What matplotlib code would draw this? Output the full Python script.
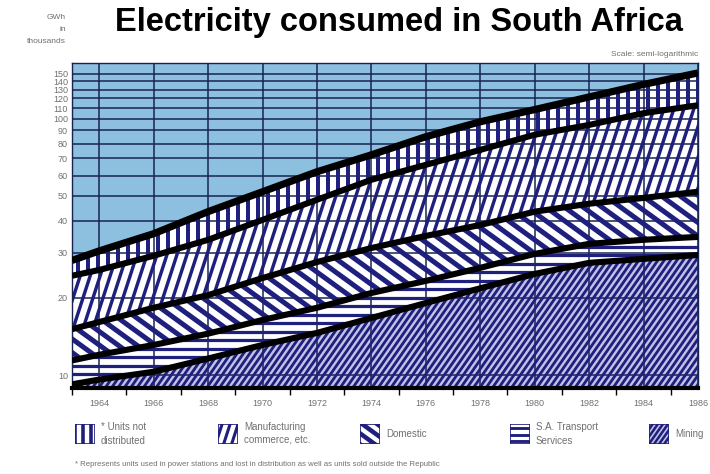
import numpy as np
import matplotlib
matplotlib.use("Agg")
import matplotlib.pyplot as plt
from matplotlib.collections import LineCollection
from matplotlib.patches import Polygon, Rectangle

# Data (thousand GWh)
years = np.array([1963, 1964, 1966, 1968, 1970, 1972, 1974, 1976, 1978, 1980, 1982, 1984, 1986])
mining = np.array([9.2, 9.6, 10.3, 11.6, 13.1, 14.6, 16.7, 19.1, 21.8, 24.8, 27.4, 28.4, 29.4])
transport = np.array([2.2, 2.4, 2.8, 2.9, 3.3, 3.7, 4.2, 4.2, 4.4, 4.9, 5.1, 5.3, 5.2])
domestic = np.array([3.7, 4.1, 5.2, 6.0, 7.5, 9.3, 10.4, 11.6, 12.3, 13.7, 14.1, 15.4, 17.3])
manufacturing = np.array([9.3, 9.6, 10.9, 13.2, 16.4, 20.7, 26.5, 31.2, 37.1, 43.2, 48.0, 56.0, 61.0])
not_distributed = np.array([3.6, 4.8, 6.4, 9.7, 11.6, 13.8, 14.5, 19.0, 21.7, 22.0, 27.0, 31.0, 38.0])

yticks = [10, 20, 30, 40, 50, 60, 70, 80, 90, 100, 110, 120, 130, 140, 150]
xlabels = list(range(1964, 1987, 2))
legend_labels = ["* Units not\ndistributed", "Manufacturing\ncommerce, etc.", "Domestic",
                 "S.A. Transport\nServices", "Mining"]
footnote = ("* Represents units used in power stations and lost in distribution "
            "as well as units sold outside the Republic")

navy = "#1f1f7e"
sky = "#8dbfdf"
grey = "#707070"
plt.rcParams['font.family'] = ['Liberation Sans', 'DejaVu Sans']

fig = plt.figure(figsize=(7.1, 4.74), dpi=100)
ax = fig.add_axes([72/710, 1 - 388/474, 626/710, 325/474])
ax.set_facecolor(sky)
ax.set_yscale('log')
ymin, ymax = 8.9, 165
ax.set_xlim(1963, 1986)
ax.set_ylim(ymin, ymax)


def add_hatch(a, patch, angle, spacing, lw, color=navy, z=2):
    # parallel stripes in pixel space, clipped to the patch
    bb = a.get_position()
    W = bb.width * fig.get_figwidth() * fig.dpi
    H = bb.height * fig.get_figheight() * fig.dpi
    th = np.deg2rad(angle)
    d = np.array([np.cos(th), np.sin(th)])
    nrm = np.array([-np.sin(th), np.cos(th)])
    diag = np.hypot(W, H)
    c = np.array([W / 2, H / 2])
    segs = []
    for k in np.arange(-diag / 2, diag / 2 + spacing, spacing):
        p = c + k * nrm
        p0, p1 = p - diag * d, p + diag * d
        segs.append([(p0[0] / W, p0[1] / H), (p1[0] / W, p1[1] / H)])
    lc = LineCollection(segs, colors=color, linewidths=lw * 72 / fig.dpi,
                        transform=a.transAxes, zorder=z)
    a.add_collection(lc, autolim=False)
    lc.set_clip_path(patch)


# stripes: angle, spacing px, width px, background
styles = [
    (90, 10, 4.0, "white"),    # units not distributed
    (72, 9.5, 3.4, "white"),   # manufacturing
    (-36, 11, 5.0, "white"),   # domestic
    (0, 8.5, 3.2, "white"),    # transport
    (55, 5.2, 2.8, "#c2c2e6"),  # mining
]

layers = [mining, transport, domestic, manufacturing, not_distributed]
tops = np.cumsum(layers, axis=0)
bottoms = [np.full(len(years), ymin * 0.9)] + list(tops[:-1])
style_for = [styles[4], styles[3], styles[2], styles[1], styles[0]]

for top, bot, (ang, sp, w, bg) in zip(tops, bottoms, style_for):
    poly = Polygon(np.column_stack([np.concatenate([years, years[::-1]]),
                                    np.concatenate([top, bot[::-1]])]),
                   closed=True, facecolor=bg, edgecolor="none", zorder=1)
    ax.add_patch(poly)
    add_hatch(ax, poly, ang, sp, w)

# thick black boundaries
for i, top in enumerate(tops):
    ax.plot(years, top, color="black", lw=5.2 if i == len(tops) - 1 else 4.4,
            solid_capstyle="butt", solid_joinstyle="round", zorder=3)

# grid sits between the fills and the stripes
ax.set_axisbelow('line')
ax.set_yticks(yticks)
ax.set_yticklabels([str(v) for v in yticks])
ax.yaxis.set_minor_locator(matplotlib.ticker.NullLocator())
ax.set_xticks(xlabels)
ax.set_xticks(list(range(1963, 1987, 2)), minor=True)
ax.grid(True, which='major', color="#172452", lw=1.1)
ax.tick_params(axis='y', length=0, labelsize=6.5, labelcolor=grey, pad=3)
ax.tick_params(axis='x', which='major', length=0, labelsize=6.5, labelcolor=grey, pad=8)
ax.tick_params(axis='x', which='minor', length=5, width=1, color="black")
for s in ["top", "right", "left"]:
    ax.spines[s].set_color("#172452")
    ax.spines[s].set_linewidth(1.0)
ax.spines["bottom"].set_linewidth(3)
ax.spines["bottom"].set_zorder(4)

# texts
fig.text(399/710, 1 - 23/474, "Electricity consumed in South Africa", ha="center", va="center",
         fontsize=23.5, fontweight="bold", color="black")
fig.text(66/710, 1 - 14/474, "GWh\nin\nthousands", ha="right", va="top", fontsize=6,
         color=grey, linespacing=2.0)
fig.text(698/710, 1 - 54/474, "Scale: semi-logarithmic", ha="right", va="center",
         fontsize=6, color=grey)

# legend
icon_x = [75, 218, 360, 510, 649]
for x0, lab, (ang, sp, w, bg) in zip(icon_x, legend_labels, styles):
    iax = fig.add_axes([x0/710, 1 - 444/474, 20/710, 20/474])
    iax.set_xlim(0, 1)
    iax.set_ylim(0, 1)
    iax.axis("off")
    rect = Rectangle((0, 0), 1, 1, facecolor=bg, edgecolor="none", transform=iax.transAxes)
    iax.add_patch(rect)
    add_hatch(iax, rect, ang, sp * 0.8, w * 0.9)
    iax.add_patch(Rectangle((0, 0), 1, 1, facecolor="none", edgecolor=navy, lw=1.2,
                            transform=iax.transAxes, zorder=5))
    fig.text((x0 + 26)/710, 1 - 434/474, lab, ha="left", va="center", fontsize=7,
             color=grey, linespacing=1.4)

fig.text(75/710, 1 - 464/474, footnote, ha="left", va="center", fontsize=5.6, color=grey)

fig.savefig("out.png", dpi=100)
